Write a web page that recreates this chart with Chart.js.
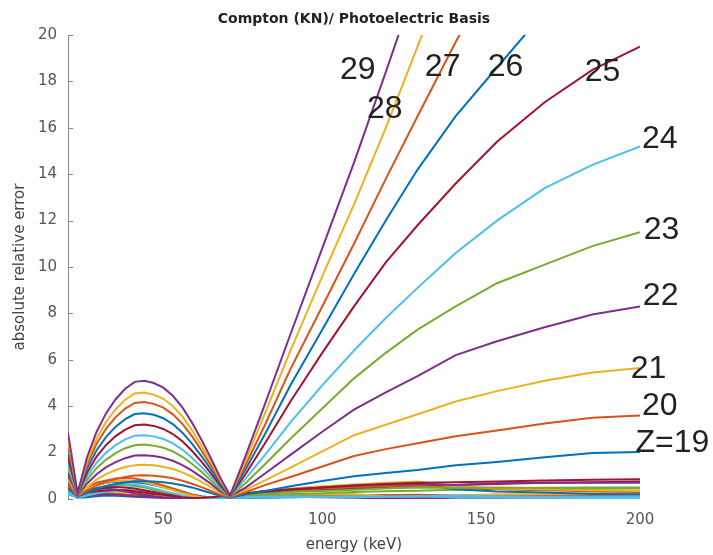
<!DOCTYPE html>
<html>
<head>
<meta charset="utf-8">
<script src="https://cdn.jsdelivr.net/npm/chart.js@4/dist/chart.umd.min.js"></script>
<style>
  html, body { margin: 0; padding: 0; background: #fff; }
</style>
</head>
<body>
<canvas id="myChart" width="713" height="555"></canvas>
<script>
// energy grid (keV): 18 points up to the 71 keV dip, 12 after it
const energy = [20, 23, 26, 29, 32, 35, 38, 41, 44, 47, 50, 53, 56, 59, 62, 65, 68, 71,
  76, 82, 90, 100, 110, 120, 130, 142, 155, 170, 185, 200]

const xTicks = [50, 100, 150, 200]

// absolute relative error, one array per Z
const z5  = [0.3, 0.05, 0.08, 0.12, 0.15, 0.14, 0.12, 0.1, 0.08, 0.06, 0.05, 0.03, 0.02, 0.02, 0.02, 0.02, 0.02, 0.03,
  0.04, 0.05, 0.08, 0.1, 0.1, 0.12, 0.12, 0.1, 0.1, 0.1, 0.1, 0.1]
const z6  = [0.4, 0.1, 0.17, 0.22, 0.25, 0.23, 0.2, 0.17, 0.14, 0.1, 0.08, 0.05, 0.04, 0.02, 0.02, 0.03, 0.04, 0.05,
  0.08, 0.1, 0.12, 0.15, 0.15, 0.17, 0.18, 0.15, 0.15, 0.15, 0.15, 0.15]
const z7  = [0.8, 0.12, 0.25, 0.32, 0.35, 0.33, 0.3, 0.25, 0.2, 0.15, 0.1, 0.07, 0.05, 0.03, 0.03, 0.04, 0.06, 0.1,
  0.12, 0.15, 0.2, 0.2, 0.22, 0.1, 0.05, 0.15, 0.2, 0.22, 0.25, 0.25]
const z8  = [0.6, 0.1, 0.13, 0.18, 0.2, 0.18, 0.15, 0.12, 0.1, 0.07, 0.05, 0.03, 0.02, 0.02, 0.02, 0.03, 0.04, 0.05,
  0.07, 0.1, 0.1, 0.08, 0.05, 0.03, 0.02, 0.05, 0.05, 0.06, 0.08, 0.08]
const z9  = [0.4, 0.1, 0.18, 0.25, 0.3, 0.33, 0.35, 0.32, 0.28, 0.22, 0.18, 0.12, 0.08, 0.05, 0.04, 0.05, 0.06, 0.08,
  0.12, 0.16, 0.2, 0.25, 0.3, 0.33, 0.36, 0.4, 0.44, 0.48, 0.5, 0.5]
const z10 = [0.2, 0.05, 0.15, 0.25, 0.32, 0.38, 0.4, 0.38, 0.33, 0.28, 0.22, 0.15, 0.08, 0.04, 0.02, 0.02, 0.03, 0.05,
  0.05, 0.06, 0.08, 0.1, 0.12, 0.1, 0.12, 0.15, 0.12, 0.1, 0.1, 0.12]
const z11 = [0.5, 0.15, 0.28, 0.33, 0.37, 0.4, 0.38, 0.33, 0.28, 0.22, 0.18, 0.12, 0.08, 0.05, 0.04, 0.05, 0.1, 0.15,
  0.22, 0.3, 0.35, 0.4, 0.45, 0.52, 0.57, 0.6, 0.65, 0.7, 0.72, 0.75]
const z12 = [0.7, 0.15, 0.45, 0.62, 0.7, 0.74, 0.75, 0.72, 0.68, 0.6, 0.5, 0.4, 0.3, 0.2, 0.12, 0.06, 0.05, 0.1,
  0.22, 0.35, 0.4, 0.45, 0.5, 0.55, 0.62, 0.42, 0.32, 0.28, 0.22, 0.2]
const z13 = [1.0, 0.2, 0.5, 0.7, 0.8, 0.88, 0.9, 0.88, 0.8, 0.7, 0.58, 0.45, 0.32, 0.2, 0.1, 0.05, 0.06, 0.12,
  0.18, 0.27, 0.35, 0.45, 0.52, 0.56, 0.58, 0.48, 0.42, 0.38, 0.33, 0.3]
const z14 = [1.3, 0.2, 0.45, 0.6, 0.7, 0.78, 0.8, 0.78, 0.72, 0.62, 0.5, 0.38, 0.25, 0.15, 0.08, 0.05, 0.06, 0.1,
  0.2, 0.32, 0.45, 0.55, 0.62, 0.7, 0.75, 0.55, 0.45, 0.42, 0.38, 0.35]
const z15 = [0.9, 0.2, 0.35, 0.42, 0.45, 0.4, 0.33, 0.25, 0.18, 0.12, 0.08, 0.05, 0.03, 0.02, 0.03, 0.05, 0.08, 0.12,
  0.18, 0.28, 0.4, 0.5, 0.58, 0.62, 0.65, 0.6, 0.68, 0.7, 0.7, 0.7]
const z16 = [0.6, 0.15, 0.35, 0.48, 0.56, 0.6, 0.6, 0.56, 0.5, 0.4, 0.3, 0.2, 0.12, 0.05, 0.03, 0.05, 0.08, 0.1,
  0.15, 0.22, 0.3, 0.35, 0.4, 0.45, 0.5, 0.48, 0.5, 0.47, 0.45, 0.45]
const z17 = [0.3, 0.1, 0.3, 0.45, 0.55, 0.62, 0.65, 0.62, 0.55, 0.45, 0.35, 0.25, 0.15, 0.08, 0.03, 0.02, 0.03, 0.05,
  0.08, 0.1, 0.12, 0.1, 0.08, 0.1, 0.12, 0.06, 0.08, 0.05, 0.05, 0.05]
const z18 = [1.1, 0.2, 0.35, 0.45, 0.5, 0.52, 0.5, 0.45, 0.38, 0.3, 0.22, 0.15, 0.08, 0.04, 0.05, 0.08, 0.12, 0.15,
  0.25, 0.35, 0.42, 0.5, 0.58, 0.65, 0.7, 0.72, 0.75, 0.8, 0.83, 0.85]
const z19 = [0.45, 0.1, 0.27, 0.44, 0.56, 0.65, 0.71, 0.76, 0.77, 0.75, 0.72, 0.67, 0.59, 0.5, 0.38, 0.26, 0.14, 0.06,
  0.2, 0.35, 0.55, 0.78, 0.98, 1.12, 1.25, 1.45, 1.6, 1.8, 1.98, 2.03]
const z20 = [0.6, 0.12, 0.36, 0.58, 0.74, 0.86, 0.95, 1.01, 1.02, 1.0, 0.96, 0.89, 0.79, 0.66, 0.51, 0.35, 0.18, 0.08,
  0.3, 0.6, 0.95, 1.4, 1.85, 2.15, 2.4, 2.7, 2.95, 3.25, 3.5, 3.6]
const z21 = [0.85, 0.15, 0.52, 0.84, 1.07, 1.25, 1.38, 1.46, 1.48, 1.45, 1.39, 1.29, 1.15, 0.96, 0.74, 0.51, 0.26, 0.1,
  0.4, 0.8, 1.35, 2.05, 2.75, 3.2, 3.65, 4.2, 4.65, 5.1, 5.45, 5.65]
const z22 = [1.05, 0.16, 0.67, 1.07, 1.37, 1.59, 1.76, 1.87, 1.89, 1.85, 1.78, 1.65, 1.46, 1.22, 0.94, 0.65, 0.33, 0.1,
  0.5, 1.1, 1.9, 2.9, 3.85, 4.6, 5.3, 6.2, 6.8, 7.4, 7.95, 8.3]
const z23 = [1.3, 0.18, 0.83, 1.33, 1.7, 1.98, 2.19, 2.32, 2.35, 2.3, 2.21, 2.05, 1.82, 1.52, 1.17, 0.8, 0.41, 0.1,
  0.7, 1.5, 2.6, 3.9, 5.2, 6.3, 7.3, 8.3, 9.3, 10.1, 10.9, 11.5]
const z24 = [1.55, 0.2, 0.97, 1.57, 2.0, 2.32, 2.57, 2.73, 2.75, 2.7, 2.59, 2.4, 2.13, 1.78, 1.38, 0.95, 0.49, 0.12,
  0.9, 1.9, 3.3, 4.9, 6.4, 7.8, 9.1, 10.6, 12.0, 13.4, 14.4, 15.2]
const z25 = [1.8, 0.2, 1.13, 1.83, 2.33, 2.71, 2.99, 3.18, 3.21, 3.15, 3.02, 2.8, 2.49, 2.08, 1.61, 1.1, 0.57, 0.12,
  1.1, 2.4, 4.2, 6.3, 8.3, 10.2, 11.8, 13.6, 15.4, 17.1, 18.5, 19.5]
const z26 = [2.1, 0.22, 1.31, 2.1, 2.68, 3.12, 3.44, 3.66, 3.7, 3.63, 3.48, 3.23, 2.86, 2.39, 1.85, 1.27, 0.65, 0.15,
  1.3, 2.8, 4.9, 7.3, 9.7, 12.0, 14.2, 16.5, 18.6, 21.0, 23.2, 25.3]
const z27 = [2.3, 0.25, 1.48, 2.38, 3.03, 3.53, 3.9, 4.14, 4.18, 4.1, 3.94, 3.65, 3.24, 2.71, 2.09, 1.44, 0.74, 0.15,
  1.5, 3.2, 5.6, 8.3, 11.0, 13.8, 16.5, 19.7, 23.0, 27.0, 31.0, 35.0]
const z28 = [2.55, 0.25, 1.62, 2.61, 3.33, 3.87, 4.28, 4.55, 4.59, 4.5, 4.32, 4.0, 3.56, 2.97, 2.3, 1.58, 0.81, 0.15,
  1.7, 3.7, 6.4, 9.6, 12.7, 16.0, 19.5, 23.7, 28.0, 33.0, 38.0, 43.0]
const z29 = [2.85, 0.25, 1.8, 2.9, 3.7, 4.3, 4.75, 5.05, 5.1, 5.0, 4.8, 4.45, 3.95, 3.3, 2.55, 1.75, 0.9, 0.15,
  1.9, 4.1, 7.1, 10.8, 14.5, 18.4, 22.4, 27.0, 32.0, 38.0, 44.0, 50.0]

const series = [z5, z6, z7, z8, z9, z10, z11, z12, z13, z14, z15, z16, z17, z18,
  z19, z20, z21, z22, z23, z24, z25, z26, z27, z28, z29]
const zValues = [5, 6, 7, 8, 9, 10, 11, 12, 13, 14, 15, 16, 17, 18, 19, 20, 21, 22, 23, 24, 25, 26, 27, 28, 29]

// curve labels, anchored in data units (energy, error)
const labelText = ['29', '28', '27', '26', '25', '24', '23', '22', '21', '20', 'Z=19']
const labelE = [111.2, 119.7, 137.9, 157.7, 188.2, 206.2, 206.8, 206.5, 202.7, 206.2, 210.2]
const labelV = [18.5, 16.8, 18.6, 18.6, 18.4, 15.5, 11.6, 8.75, 5.6, 4.0, 2.4]

// matlab default color order
const colors = ['#0072BD', '#D95319', '#EDB120', '#7E2F8E', '#77AC30', '#4DBEEE', '#A2142F']

const datasets = series.map((vals, i) => {
  const c = colors[(zValues[i] - 19 + 70) % 7]
  return {
    label: 'Z=' + zValues[i],
    data: energy.map((e, j) => ({ x: e, y: vals[j] })),
    borderColor: c,
    backgroundColor: c,
    borderWidth: 2,
    pointRadius: 0,
    tension: 0,
  }
}).reverse()

const extras = {
  id: 'extras',
  afterDraw(chart) {
    const { ctx, chartArea, scales } = chart
    ctx.save()
    // title
    ctx.fillStyle = '#222'
    ctx.font = 'bold 14px "DejaVu Sans"'
    ctx.textAlign = 'center'
    ctx.textBaseline = 'middle'
    ctx.fillText('Compton (KN)/ Photoelectric Basis', (chartArea.left + chartArea.right) / 2, 19)
    // inward y ticks
    ctx.strokeStyle = '#8a8a8a'
    ctx.lineWidth = 1
    scales.y.ticks.forEach((t) => {
      const py = Math.round(scales.y.getPixelForValue(t.value)) + 0.5
      ctx.beginPath()
      ctx.moveTo(chartArea.left, py)
      ctx.lineTo(chartArea.left + 5, py)
      ctx.stroke()
    })
    // curve labels
    ctx.fillStyle = '#222'
    ctx.font = '32px "Liberation Sans"'
    labelText.forEach((txt, i) => {
      ctx.fillText(txt, scales.x.getPixelForValue(labelE[i]), scales.y.getPixelForValue(labelV[i]))
    })
    ctx.restore()
  },
}

var ctx = document.getElementById('myChart').getContext('2d')
var myChart = new Chart(ctx, {
  type: 'line',
  data: { datasets: datasets },
  plugins: [extras],
  options: {
    responsive: false,
    animation: false,
    layout: { padding: { top: 35, right: 73, left: 0, bottom: 0 } },
    plugins: {
      legend: { display: false },
      tooltip: { enabled: false },
    },
    scales: {
      x: {
        type: 'linear',
        min: 20,
        max: 200,
        afterFit: (s) => { s.height = 56 },
        afterBuildTicks: (s) => { s.ticks = xTicks.map((v) => ({ value: v })) },
        grid: { display: false, drawTicks: false },
        border: { display: false },
        ticks: { padding: 12, color: '#555', font: { family: 'DejaVu Sans', size: 15 } },
        title: {
          display: true,
          text: 'energy (keV)',
          color: '#444',
          font: { family: 'DejaVu Sans', size: 15 },
          padding: { top: 0, bottom: 1 },
        },
      },
      y: {
        min: 0,
        max: 20,
        afterFit: (s) => { s.width = 68 },
        grid: { display: false, drawTicks: false },
        border: { display: true, color: '#8a8a8a', width: 1 },
        ticks: { stepSize: 2, padding: 11, color: '#555', font: { family: 'DejaVu Sans', size: 15 } },
        title: {
          display: true,
          text: 'absolute relative error',
          color: '#444',
          font: { family: 'DejaVu Sans', size: 15 },
          padding: { top: 11, bottom: 0 },
        },
      },
    },
  },
})
</script>
</body>
</html>
